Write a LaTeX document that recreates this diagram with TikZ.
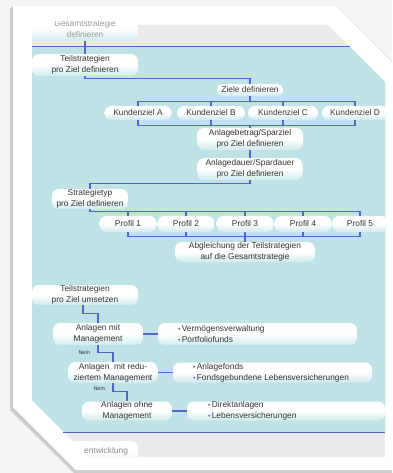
\documentclass[tikz,border=0pt]{standalone}
\usepackage{fontspec}
\setmainfont{Liberation Sans}
\definecolor{bgout}{HTML}{F4F4F4}
\definecolor{tealbg}{HTML}{BEE2E6}
\definecolor{greyband}{HTML}{EBEBEB}
\definecolor{lineblue}{HTML}{5A64C8}
\definecolor{txt}{HTML}{333333}
\definecolor{pillbot}{HTML}{CFEAEE}
\newcommand{\mybul}{{\color{lineblue}\scriptsize\textbullet}\,}
\begin{document}
\begin{tikzpicture}[x=1bp,y=-1bp,
  font=\fontsize{8.4}{11}\selectfont,
  pill/.style={rounded corners=7bp, top color=white, bottom color=pillbot, middle color=white,
    draw=none, inner sep=0pt, text=txt, align=center},
  conn/.style={draw=lineblue, line width=1.1bp},
  bultext/.style={anchor=west, align=left, text=txt, inner sep=0pt}]
\useasboundingbox (0,0) rectangle (392,473);
% background and page frame
\fill[bgout] (0,0) rectangle (392,473);
\fill[black!20] (13,6) -- (10,9) -- (10,410) -- (74,473) -- (392,473) -- (392,470) -- (76,470) -- (13,407) -- cycle;
\fill[white] (13,6) -- (337,6) -- (392,62) -- (392,470) -- (76,470) -- (13,407) -- cycle;
\draw[black!12, line width=0.6bp] (337,6) -- (392,62);
% content area
\fill[greyband] (32,25) -- (328,25) -- (385,82) -- (385,457) -- (89,457) -- (32,400) -- cycle;
\begin{scope}
  \clip (32,25) -- (328,25) -- (385,82) -- (385,457) -- (89,457) -- (32,400) -- cycle;
  \fill[tealbg] (0,47) rectangle (392,432);
  \node[pill, top color=white, bottom color=greyband, middle color=white,
        minimum width=70bp, minimum height=22bp, anchor=north west] (et) at (68,441) {};
  \node[anchor=west, text=black!45, inner sep=0pt] (ett) at (84,451) {entwicklung};
\end{scope}
\begin{scope}
  \clip (0,21.5) rectangle (392,47);
  \node[pill, text=black!40, minimum width=106bp, minimum height=24bp] (gs) at (85,29) {Gesamtstrategie\\definieren};
\end{scope}
\draw[lineblue, line width=1bp] (32,47) -- (350,47);
\draw[lineblue, line width=1bp] (63,432) -- (385,432);
% upper part
\node[pill, minimum width=106bp, minimum height=22bp] (td) at (85,65) {Teilstrategien\\pro Ziel definieren};
\node[pill, rounded corners=5bp, minimum width=66bp, minimum height=12bp] (zd) at (250,90) {Ziele definieren};
\node[pill, minimum width=67bp, minimum height=14bp] (kA) at (138,113) {Kundenziel A};
\node[pill, minimum width=68bp, minimum height=14bp] (kB) at (211,113) {Kundenziel B};
\node[pill, minimum width=70bp, minimum height=14bp] (kC) at (283,113) {Kundenziel C};
\node[pill, minimum width=66bp, minimum height=14bp] (kD) at (355,113) {Kundenziel D};
\node[pill, minimum width=106bp, minimum height=22bp] (ab) at (250,139) {Anlagebetrag/Sparziel\\pro Ziel definieren};
\node[pill, minimum width=105bp, minimum height=22bp] (ad) at (250,169) {Anlagedauer/Spardauer\\pro Ziel definieren};
\node[pill, minimum width=76bp, minimum height=20bp] (st) at (90,199) {Strategietyp\\pro Ziel definieren};
\node[pill, minimum width=57bp, minimum height=16bp] (p1) at (128,224) {Profil 1};
\node[pill, minimum width=57bp, minimum height=16bp] (p2) at (186,224) {Profil 2};
\node[pill, minimum width=57bp, minimum height=16bp] (p3) at (245,224) {Profil 3};
\node[pill, minimum width=57bp, minimum height=16bp] (p4) at (303,224) {Profil 4};
\node[pill, minimum width=56bp, minimum height=16bp] (p5) at (360,224) {Profil 5};
\node[pill, minimum width=140bp, minimum height=20bp] (ag) at (245,252) {Abgleichung der Teilstrategien\\auf die Gesamtstrategie};
% connectors upper part
\draw[conn] (gs.south) -- (td.north);
\draw[conn] (td.south) -- ++(0,2) -| (zd.north);
\draw[conn] (kA.north) -- ++(0,-4) coordinate (u1) -- (u1 -| kD.north) -- (kD.north);
\foreach \n in {kB,kC} \draw[conn] (\n.north) -- (\n.north |- u1);
\draw[conn] (zd.south) -- (zd.south |- u1);
\draw[conn] (kA.south) -- ++(0,5) coordinate (l1) -- (l1 -| kD.south) -- (kD.south);
\foreach \n in {kB,kC} \draw[conn] (\n.south) -- (\n.south |- l1);
\draw[conn] (ab.north) -- (ab.north |- l1);
\draw[conn] (ab.south) -- (ad.north);
\draw[conn] (ad.south) -- ++(0,3) -| (st.north);
\draw[conn] (p1.north) -- ++(0,-4) coordinate (u2);
\draw[conn] (st.south) -- (st.south |- u2) -- (u2 -| p5.north) -- (p5.north);
\foreach \n in {p2,p3,p4} \draw[conn] (\n.north) -- (\n.north |- u2);
\draw[conn] (p1.south) -- ++(0,4) coordinate (l2) -- (l2 -| p5.south) -- (p5.south);
\foreach \n in {p2,p3,p4} \draw[conn] (\n.south) -- (\n.south |- l2);
\draw[conn] (ag.north) -- (ag.north |- l2);
% lower part
\node[pill, minimum width=106bp, minimum height=20bp] (tu) at (85,295) {Teilstrategien\\pro Ziel umsetzen};
\node[pill, minimum width=90bp, minimum height=22bp] (am) at (98,334) {Anlagen mit\\Management};
\node[pill, minimum width=199bp, minimum height=22bp] (b1) at (257.5,334) {};
\node[bultext] (b1t) at ([xshift=20bp]b1.west) {\mybul Verm\"ogensverwaltung\\\mybul Portfoliofunds};
\node[pill, minimum width=89bp, minimum height=21bp] (ar) at (113,372.5) {Anlagen\ \ mit redu-\\ziertem Management};
\node[pill, minimum width=199bp, minimum height=20bp] (b2) at (272.5,372.5) {};
\node[bultext] (b2t) at ([xshift=20bp]b2.west) {\mybul Anlagefonds\\\mybul Fondsgebundene Lebensversicherungen};
\node[pill, minimum width=90bp, minimum height=19bp] (ao) at (127,411) {Anlagen ohne\\Management};
\node[pill, minimum width=198bp, minimum height=19bp] (b3) at (286,411) {};
\node[bultext] (b3t) at ([xshift=21bp]b3.west) {\mybul Direktanlagen\\\mybul Lebensversicherungen};
% connectors lower part
\draw[conn] ([xshift=-2bp]tu.south) -- ++(0,8) -| (am.north);
\draw[conn] (am.east) -- (b1.west);
\draw[conn] (am.south) -- ++(0,7) coordinate (n1) -| (ar.north);
\node[anchor=east, text=txt, font=\fontsize{5.5}{6}\selectfont, inner sep=0pt] (nein1) at ([xshift=-8bp]n1) {Nein};
\draw[conn] (ar.east) -- (b2.west);
\draw[conn] (ar.south) -- ++(0,8) coordinate (n2) -| (ao.north);
\node[anchor=east, text=txt, font=\fontsize{5.5}{6}\selectfont, inner sep=0pt] (nein2) at ([xshift=-8bp,yshift=3bp]n2) {Nein};
\draw[conn] (ao.east) -- (b3.west);
\end{tikzpicture}
\end{document}
